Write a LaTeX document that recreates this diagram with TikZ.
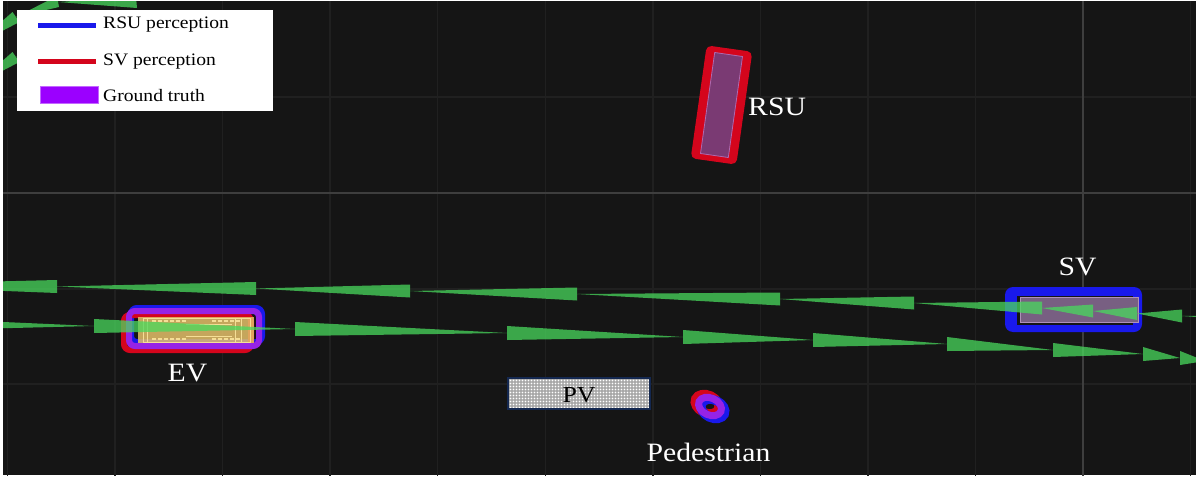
\documentclass[tikz,border=0pt]{standalone}
\usepackage{fontspec}
\setmainfont{Liberation Serif}[FakeStretch=1.12]
\definecolor{bg}{RGB}{21,21,21}
\definecolor{gridc}{RGB}{32,32,32}
\definecolor{gridb}{RGB}{62,62,62}
\definecolor{trajg}{RGB}{73,217,93}
\definecolor{rsublue}{RGB}{25,25,235}
\definecolor{svred}{RGB}{212,5,28}
\definecolor{gtpurple}{RGB}{150,35,230}
\definecolor{legpurple}{RGB}{155,0,255}
\definecolor{rsufill}{RGB}{122,58,115}
\definecolor{rsuedge}{RGB}{175,105,175}
\definecolor{svfill}{RGB}{120,95,130}
\definecolor{svedge}{RGB}{175,145,185}
\definecolor{cary}{RGB}{228,192,105}
\definecolor{carl}{RGB}{245,222,150}
\definecolor{pvfill}{RGB}{168,168,168}
\definecolor{pvedge}{RGB}{20,40,80}
\tikzset{
  traj/.style={fill=trajg, fill opacity=0.75},
  lbl/.style={text=white, inner sep=0pt, font=\fontsize{26.5}{30}\selectfont},
  legtxt/.style={text=black, inner sep=0pt, anchor=base west, font=\fontsize{17.5}{20}\selectfont},
  gridline/.style={draw=gridc, line width=1.5},
  axisline/.style={draw=gridb, line width=2}
}
\begin{document}
\begin{tikzpicture}[x=1pt,y=-1pt]
\useasboundingbox (0,0) rectangle (1196,479);
\fill[white] (0,0) rectangle (1196,479);
\fill[bg] (3,1) rectangle (1196,475);
\begin{scope}
\clip (3,1) rectangle (1196,475);
% grid
\foreach \gx in {7.5,115,222.6,330.2,437.7,545.3,652.8,760.4,868,975.5,1190.6}
  \draw[gridline] (\gx,0) -- (\gx,479);
\foreach \gy in {97,289,384}
  \draw[gridline] (0,\gy) -- (1196,\gy);
\draw[axisline] (1083,0) -- (1083,479);
\draw[axisline] (0,193) -- (1196,193);

% RSU object
\fill[svred, rounded corners=5] (706.7,45.4) -- (752.3,51.8) -- (736.3,164.6) -- (690.7,158.2) -- cycle;
\draw[rsuedge, fill=rsufill, line width=0.8] (714.7,52.5) -- (742.5,56.5) -- (728.3,157.5) -- (700.5,153.5) -- cycle;

% SV object
\fill[rsublue, rounded corners=8] (1005,287) rectangle (1142,332);
\fill[bg] (1017,296) rectangle (1133,325);
\draw[svedge, fill=svfill, line width=0.8] (1020,297) rectangle (1138,322);

% EV object
\draw[rsublue, line width=6, rounded corners=6] (131,308) rectangle (262,342);
\draw[svred, line width=6, rounded corners=6] (124,315) rectangle (251,350);
\draw[gtpurple, line width=6, rounded corners=6] (129,311) rectangle (259,346);
\fill[cary, fill opacity=0.85] (138,317) rectangle (254,343);
\draw[carl, line width=1] (143,318) rectangle (250,342);
\draw[carl, line width=2, dash pattern=on 4pt off 2pt] (152,321) -- (186,321);
\draw[carl, line width=2, dash pattern=on 4pt off 2pt] (152,339) -- (186,339);
\draw[carl, line width=2, dash pattern=on 4pt off 2pt] (212,321) -- (240,321);
\draw[carl, line width=2, dash pattern=on 4pt off 2pt] (212,339) -- (240,339);
\draw[carl, line width=1] (186,324) -- (232,324) (186,336) -- (232,336);
\draw[carl, line width=1] (235,318) -- (235,342) (241,318) -- (241,342) (147,318) -- (147,342);

% Pedestrian object
\draw[svred, line width=9] (707,404) ellipse [x radius=12.5, y radius=9, rotate=-25];
\draw[rsublue, line width=9] (713,409) ellipse [x radius=12.5, y radius=9, rotate=-25];
\draw[gtpurple, line width=7] (710,406.5) ellipse [x radius=12, y radius=8.5, rotate=-25];

% PV
\fill[pvfill] (508,378) rectangle (650,409);
\foreach \dx in {0,...,46} \foreach \dy in {0,...,9}
  \fill[white] (510.5+3*\dx, 380.5+3*\dy) circle [radius=0.9];
\draw[pvedge, line width=1.5] (508,378) rectangle (650,409);

% trajectories: upper (pointing left)
\foreach \xa/\ya/\xb/\yb in {-150/285/57/286.5, 57/286.5/256/288.5, 256/288.5/410/291, 410/291/577/294, 577/294/780/299, 780/299/914/303, 914/303/1042/308, 1042/308/1093/311, 1093/311/1137/313.5, 1137/313.5/1182/316, 1182/316/1330/320}
  \fill[traj] (\xa,\ya) -- (\xb,\yb-6.5) -- (\xb,\yb+6.5) -- cycle;
% lower (pointing right)
\foreach \xa/\ya/\xb/\yb in {-110/324/94/326, 94/326/295/329, 295/329/507/333, 507/333/683/337, 683/337/813/340, 813/340/947/344, 947/344/1053/350, 1053/350/1143/354, 1143/354/1180/358, 1180/358/1205/361}
  \fill[traj] (\xa,\ya-7) -- (\xa,\ya+7) -- (\xb,\yb) -- cycle;
% top-left trajectories (pointing up-right)
\fill[traj] (-25,45) -- (12.5,12) -- (19.5,22) -- cycle;
\fill[traj] (16,17) -- (57,-4) -- (59,7) -- cycle;
\fill[traj] (58,2) -- (136,-3) -- (137,8) -- cycle;
\fill[traj] (-25,85) -- (12.5,52) -- (19.5,62) -- cycle;
\fill[traj] (16,57) -- (60,30) -- (63,38) -- cycle;
\end{scope}

% labels
\node[lbl, anchor=base west] (rsu) at (748,115) {RSU};
\node[lbl, anchor=base] (sv) at (1077.5,275) {SV};
\node[lbl, anchor=base] (ev) at (187.5,381) {EV};
\node[lbl, anchor=base] (ped) at (708.5,461) {Pedestrian};
\node[text=black, inner sep=0pt, anchor=base, font=\fontsize{23}{26}\selectfont] (pv) at (579,402) {PV};

% legend
\fill[white] (17,10) rectangle (273,111);
\draw[rsublue, line width=5] (38,25.5) -- (96,25.5);
\draw[svred, line width=5] (38,61.5) -- (96,61.5);
\draw[legpurple!60!white, fill=legpurple, line width=0.8] (40,86) rectangle (98,103);
\node[legtxt] (l1) at (103,28) {RSU perception};
\node[legtxt] (l2) at (103,65) {SV perception};
\node[legtxt] (l3) at (103,101.5) {Ground truth};
\end{tikzpicture}
\end{document}
